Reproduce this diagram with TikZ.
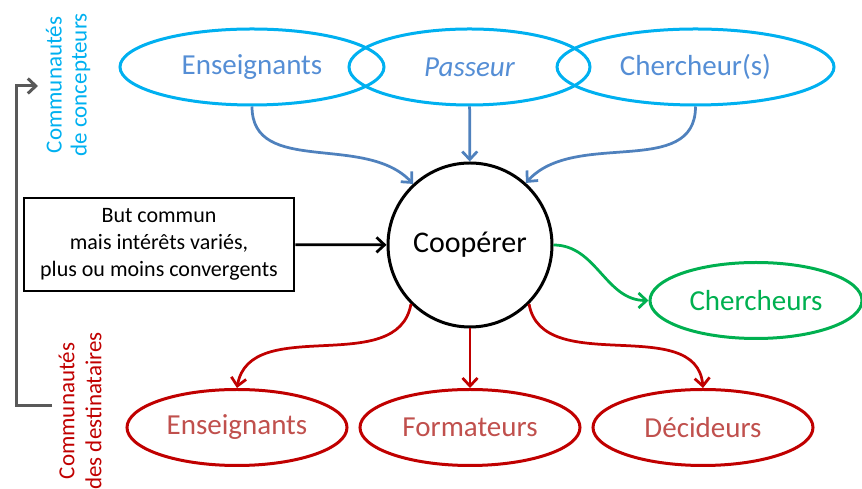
\documentclass[tikz,border=0pt]{standalone}
\usepackage{fontspec}
\setmainfont{Carlito}
\usetikzlibrary{shapes.geometric,arrows.meta,positioning}
\definecolor{concbord}{HTML}{00B0F0}
\definecolor{conctxt}{HTML}{558ED5}
\definecolor{concfl}{HTML}{4F81BD}
\definecolor{destbord}{HTML}{C00000}
\definecolor{desttxt}{HTML}{C0504D}
\definecolor{cherch}{HTML}{00B050}
\definecolor{crochet}{HTML}{595959}

\begin{document}
\begin{tikzpicture}[x=1pt,y=1pt,node distance=233pt,on grid,
    >={Straight Barb[length=8pt,width=15pt]},
    bulle/.style={ellipse,line width=3pt,inner sep=0pt,minimum height=76pt,
      font=\fontsize{29}{34}\selectfont},
    concepteur/.style={bulle,draw=concbord,text=conctxt},
    destinataire/.style={bulle,draw=destbord,text=desttxt,minimum width=220pt},
    legende/.style={rotate=90,align=center,font=\fontsize{23}{25}\selectfont}]
	   \useasboundingbox (0,0) rectangle (862,489);
	   % concepteurs
	   \node[concepteur,minimum width=264pt] (c_1) at (252,422) {Enseignants};
	   \node[concepteur,minimum width=241pt] (c_2) at (469.5,422) {\itshape Passeur};
	   \node[concepteur,minimum width=277pt] (c_3) at (695.5,422) {Chercheur(s)};
	   % centre
	   \node[circle,draw,line width=3pt,minimum size=164pt,
	     font=\fontsize{30}{36}\selectfont] (coop) at (470,244) {Coopérer};
	   \node[draw,line width=2.5pt,minimum width=270pt,minimum height=93pt,align=center,
	     font=\fontsize{22}{27}\selectfont] (but) at (159,244.5)
	     {But commun\\mais intérêts variés,\\plus ou moins convergents};
	   \node[bulle,draw=cherch,text=cherch,minimum width=212pt] (ch) at (756,188.5) {Chercheurs};
	   % destinataires
	   \node[destinataire] (d_1) at (237,61.5) {Enseignants};
	   \node[destinataire] (d_2) [right=of d_1] {Formateurs};
	   \node[destinataire] (d_3) [right=of d_2] {Décideurs};
	   % legendes
	   \node[legende,text=concbord] (l_c) at (68,404) {Communautés\\de concepteurs};
	   \node[legende,text=destbord,font=\fontsize{23}{27}\selectfont] (l_d) at (80,78)
	     {Communautés\\des destinataires};
	   \coordinate (b_h) at (38,403);
	   \coordinate (b_b) at (52,83);
	   \draw[->,crochet,line width=3pt] (b_b) -- ++(-36,0) |- (b_h);
	    \path[->,concfl,line width=2.75pt]
	    (c_1.south) edge [out=-90,in=133] (coop.133)
	    (c_2) edge (coop)
	    (c_3.south) edge [out=-90,in=48] (coop.48);
	    \path[->,destbord,line width=2.75pt]
	    (coop.225) edge [out=-100,in=80] (d_1.north)
	    (coop) edge (d_2)
	    (coop.-45) edge [out=-80,in=95] (d_3.north);
	    \draw[->,cherch,line width=2.75pt] (coop.east) to [out=0,in=180] (ch.west);
	    \draw[->,line width=2.75pt] (but) -- (coop);
	\end{tikzpicture}
\end{document}
